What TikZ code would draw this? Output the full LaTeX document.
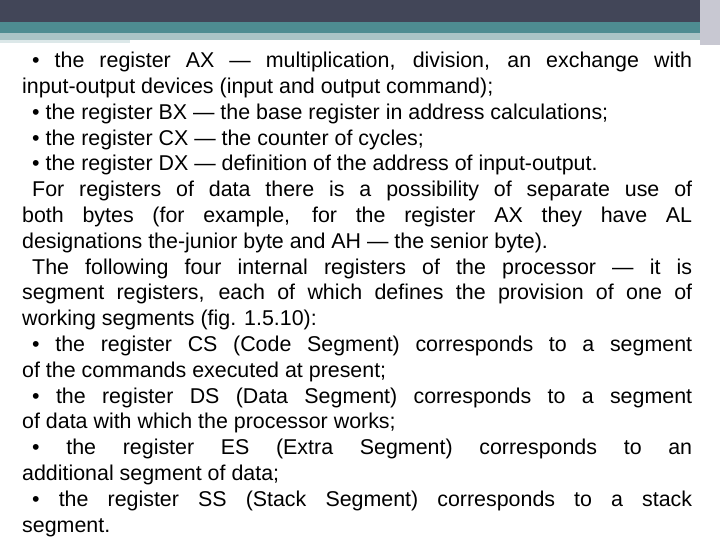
\documentclass[tikz,border=0pt]{standalone}
\usepackage{fontspec}
\setmainfont{Liberation Sans}
\begin{document}
\begin{tikzpicture}[x=1pt,y=1pt]
\useasboundingbox (0,0) rectangle (720,540);
\fill[white] (0,0) rectangle (720,540);
\fill[fill={rgb,255:red,66;green,70;blue,88}] (0,540) rectangle (700,518);
\fill[fill={rgb,255:red,78;green,140;blue,145}] (0,518) rectangle (700,507);
\fill[fill={rgb,255:red,170;green,196;blue,198}] (0,507) rectangle (700,500);
\fill[fill={rgb,255:red,220;green,232;blue,233}] (0,500) rectangle (130,497);
\fill[fill={rgb,255:red,200;green,200;blue,210}] (700,540) rectangle (720,495);
\node[anchor=north west,inner sep=0pt,text width=670pt,align=justify,
  font=\fontsize{21.4}{25.8}\selectfont] (txt) at (22,488) {%
\parindent=10pt\hyphenpenalty=10000\emergencystretch=50pt
\indent • the register AX — multiplication, division, an exchange with\linebreak input-output devices (input and output command);\par
\indent • the register BX — the base register in address calculations;\par
\indent • the register CX — the counter of cycles;\par
\indent • the register DX — definition of the address of input-output.\par
\indent For registers of data there is a possibility of separate use of\linebreak both bytes (for example, for the register AX they have AL\linebreak designations the-junior byte and AH — the senior byte).\par
\indent The following four internal registers of the processor — it is\linebreak segment registers, each of which defines the provision of one of\linebreak working segments (fig. 1.5.10):\par
\indent • the register CS (Code Segment) corresponds to a segment\linebreak of the commands executed at present;\par
\indent • the register DS (Data Segment) corresponds to a segment\linebreak of data with which the processor works;\par
\indent • the register ES (Extra Segment) corresponds to an\linebreak additional segment of data;\par
\indent • the register SS (Stack Segment) corresponds to a stack\linebreak segment.\par};
\end{tikzpicture}
\end{document}
